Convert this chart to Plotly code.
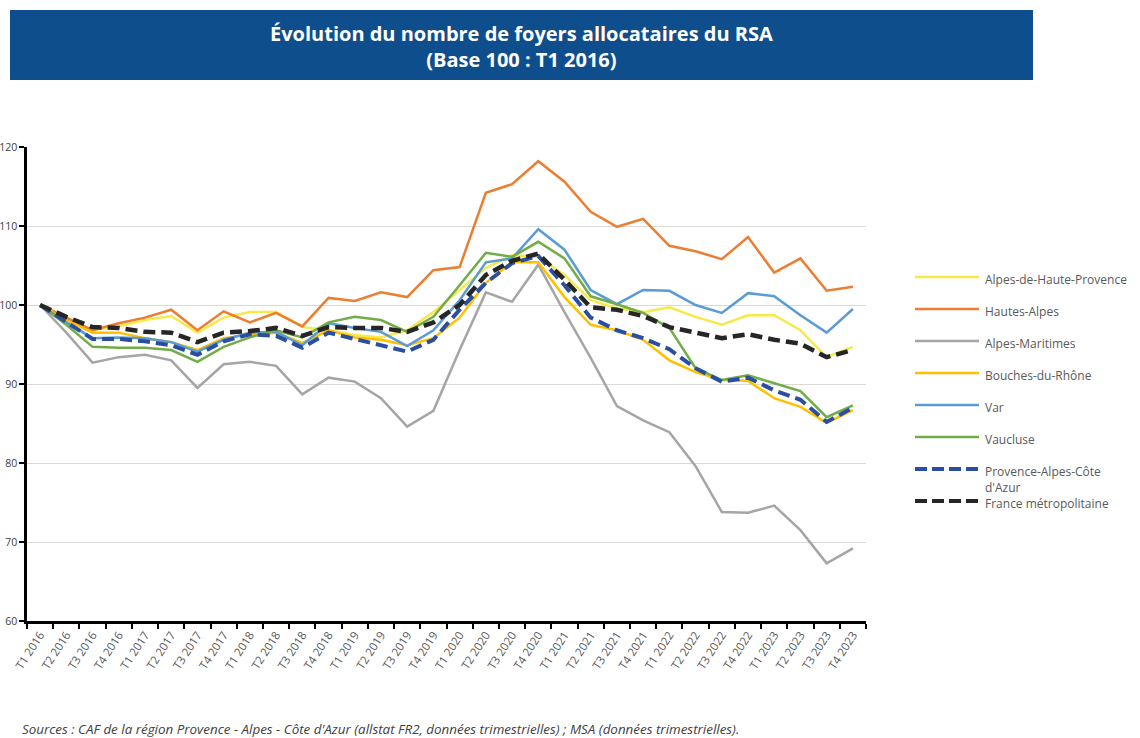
import plotly.graph_objects as go

quarters = ["T1 2016", "T2 2016", "T3 2016", "T4 2016",
            "T1 2017", "T2 2017", "T3 2017", "T4 2017",
            "T1 2018", "T2 2018", "T3 2018", "T4 2018",
            "T1 2019", "T2 2019", "T3 2019", "T4 2019",
            "T1 2020", "T2 2020", "T3 2020", "T4 2020",
            "T1 2021", "T2 2021", "T3 2021", "T4 2021",
            "T1 2022", "T2 2022", "T3 2022", "T4 2022",
            "T1 2023", "T2 2023", "T3 2023", "T4 2023"]

alpes_haute_provence = [100, 98.4, 96.8, 97.3, 98.1, 98.6, 96.5, 98.4, 99.1, 99.1, 97.2, 96.8,
                        96.2, 95.9, 96.8, 99.1, 101.9, 104.7, 106.3, 106.1, 103.8, 100.6, 99.6, 99.1,
                        99.7, 98.5, 97.5, 98.7, 98.7, 96.8, 93.4, 94.7]
hautes_alpes = [100, 98.4, 96.8, 97.7, 98.4, 99.4, 96.8, 99.2, 97.8, 99.0, 97.3, 100.9,
                100.5, 101.6, 101.0, 104.4, 104.8, 114.2, 115.3, 118.2, 115.6, 111.8, 109.9, 110.9,
                107.5, 106.8, 105.8, 108.6, 104.1, 105.9, 101.8, 102.3]
alpes_maritimes = [100, 96.5, 92.7, 93.4, 93.7, 93.0, 89.5, 92.5, 92.8, 92.3, 88.7, 90.8,
                   90.3, 88.2, 84.6, 86.6, 94.3, 101.6, 100.4, 105.1, 99.1, 93.3, 87.2, 85.4,
                   83.9, 79.6, 73.8, 73.7, 74.6, 71.5, 67.3, 69.2]
bouches_du_rhone = [100, 98.1, 96.5, 96.5, 95.8, 95.3, 94.3, 95.8, 96.2, 96.5, 95.2, 96.8,
                    95.9, 95.6, 94.9, 95.8, 98.4, 102.8, 105.4, 105.4, 101.0, 97.5, 96.8, 95.6,
                    93.0, 91.5, 90.5, 90.4, 88.2, 87.1, 85.1, 86.7]
var = [100, 97.8, 95.8, 95.9, 95.8, 95.3, 94.1, 95.6, 96.5, 96.6, 94.9, 97.7,
       97.1, 96.6, 94.8, 96.8, 100.6, 105.4, 105.9, 109.6, 107.0, 101.9, 100.1, 101.9,
       101.8, 100.0, 99.0, 101.5, 101.1, 98.7, 96.5, 99.5]
vaucluse = [100, 97.5, 94.7, 94.6, 94.6, 94.3, 92.8, 94.7, 95.9, 96.8, 95.9, 97.8,
            98.5, 98.1, 96.6, 98.5, 102.5, 106.6, 106.1, 108.0, 105.9, 101.1, 100.1, 99.0,
            97.1, 92.0, 90.5, 91.1, 90.1, 89.1, 85.8, 87.3]
paca = [100, 97.8, 95.7, 95.7, 95.4, 94.9, 93.7, 95.4, 96.3, 96.1, 94.6, 96.5,
        95.7, 94.9, 94.1, 95.6, 99.4, 102.8, 105.3, 106.2, 102.5, 98.4, 96.8, 95.8,
        94.4, 92.0, 90.3, 90.8, 89.2, 88.0, 85.2, 87.0]
france_metro = [100, 98.5, 97.2, 97.1, 96.6, 96.5, 95.3, 96.5, 96.7, 97.1, 96.1, 97.2,
                97.1, 97.1, 96.6, 97.8, 100.0, 103.8, 105.6, 106.5, 103.2, 99.7, 99.4, 98.6,
                97.2, 96.5, 95.8, 96.3, 95.6, 95.1, 93.4, 94.3]

series_names = ["Alpes-de-Haute-Provence", "Hautes-Alpes", "Alpes-Maritimes", "Bouches-du-Rhône",
                "Var", "Vaucluse", "Provence-Alpes-Côte<br>d'Azur", "France métropolitaine"]
series_values = [alpes_haute_provence, hautes_alpes, alpes_maritimes, bouches_du_rhone,
                 var, vaucluse, paca, france_metro]
colors = ["#F7E948", "#ED7D31", "#A5A5A5", "#FFC000", "#5B9BD5", "#70AD47", "#2A4FA0", "#262626"]
widths = [2.5, 2.5, 2.5, 2.5, 2.5, 2.5, 4, 4.5]
dashes = ["solid"] * 6 + ["dash", "dash"]

title_text = "Évolution du nombre de foyers allocataires du RSA<br>(Base 100 : T1 2016)"
source_text = ("Sources : CAF de la région Provence - Alpes - Côte d'Azur (allstat FR2, données trimestrielles) ; "
               "MSA (données trimestrielles).")

W, H = 1140, 738
PL, PR, PT, PB = 27, 866, 147, 621


def px(x):
    return (x - PL) / (PR - PL)


def py(y):
    return (PB - y) / (PB - PT)


fig = go.Figure()
for name, vals, c, w, d in zip(series_names, series_values, colors, widths, dashes):
    fig.add_trace(go.Scatter(x=quarters, y=vals, mode="lines", name=name,
                             line=dict(color=c, width=w, dash="12px,6px" if d == "dash" else "solid"),
                             showlegend=False))

shapes = []
annotations = []

# title banner
shapes.append(dict(type="rect", xref="paper", yref="paper", x0=px(10), x1=px(1033), y0=py(80), y1=py(10),
                   fillcolor="#0F4E8C", line=dict(width=0), layer="above"))
annotations.append(dict(xref="paper", yref="paper", x=px(521), y=py(46), text="<b>" + title_text + "</b>",
                        showarrow=False, font=dict(family="Open Sans", size=20, color="white"),
                        xanchor="center", yanchor="middle", align="center"))

# legend (manual)
leg_y = [277, 309, 341, 373, 405, 437, 469, 501]
for name, c, w, d, yy in zip(series_names, colors, widths, dashes, leg_y):
    shapes.append(dict(type="line", xref="paper", yref="paper", x0=px(915), x1=px(979), y0=py(yy), y1=py(yy),
                       line=dict(color=c, width=min(w, 3.5) if d == "solid" else 4,
                                 dash="12px,5px" if d == "dash" else "solid")))
    annotations.append(dict(xref="paper", yref="paper", x=px(983), y=py(yy - 8), text=name,
                            showarrow=False, xanchor="left", yanchor="top", align="left",
                            font=dict(family="Open Sans", size=12, color="#595959")))

# source
annotations.append(dict(xref="paper", yref="paper", x=px(20), y=py(729), text="<i>" + source_text + "</i>",
                        showarrow=False, xanchor="left", yanchor="middle",
                        font=dict(family="Open Sans", size=13.4, color="#404040")))

fig.update_layout(
    width=W, height=H,
    margin=dict(l=PL, r=W - PR, t=PT, b=H - PB, autoexpand=False),
    paper_bgcolor="white", plot_bgcolor="white",
    shapes=shapes, annotations=annotations,
    font=dict(family="Open Sans", color="#595959"),
)
fig.update_xaxes(type="category", range=[-0.5, 31.5], tickson="boundaries", ticks="outside",
                 ticklen=5, tickwidth=2, tickcolor="#000", showline=True, linecolor="#000", linewidth=2.5,
                 showgrid=False, tickangle=-57, tickfont=dict(size=11.5, color="#595959"), automargin=False)
fig.update_yaxes(range=[60, 120], dtick=10, tick0=60, ticks="outside", ticklen=5, tickwidth=2,
                 tickcolor="#000", showline=True, linecolor="#000", linewidth=2.5,
                 showgrid=True, gridcolor="#D9D9D9", gridwidth=1, zeroline=False,
                 tickfont=dict(size=10.5, color="#404040"), ticklabelstandoff=0, automargin=False)

fig.write_html("out.html", config={"displayModeBar": False},
               post_script="document.body.style.margin='0';document.body.style.padding='0';")
